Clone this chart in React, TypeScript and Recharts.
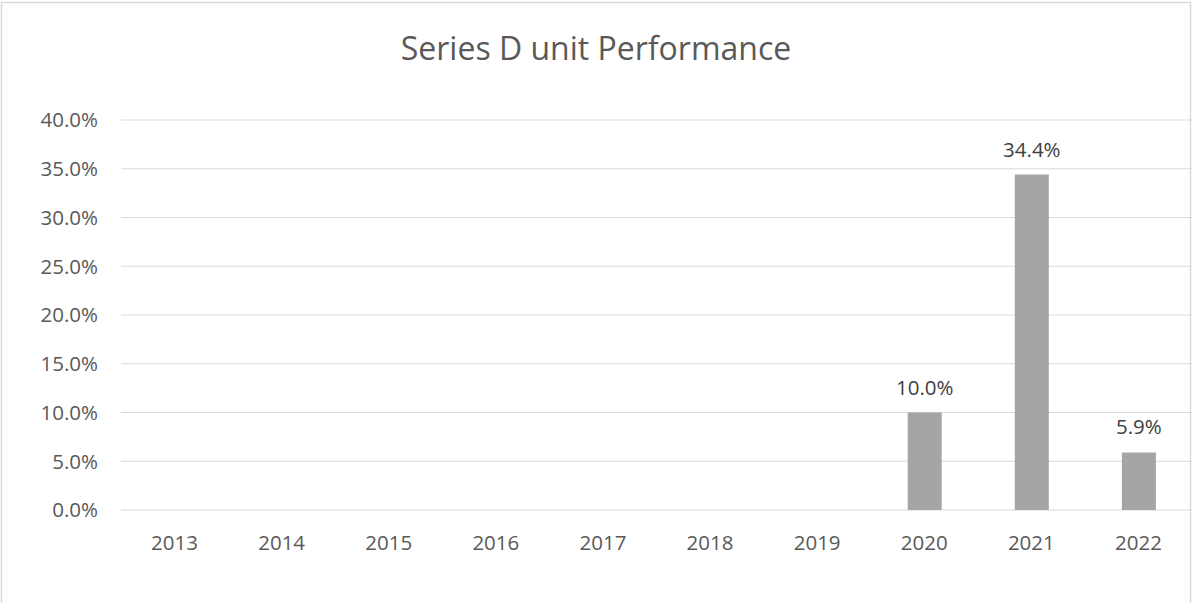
import React from 'react';
import { BarChart, Bar, XAxis, YAxis, CartesianGrid, LabelList } from 'recharts';

const years = ['2013', '2014', '2015', '2016', '2017', '2018', '2019', '2020', '2021', '2022'];
const performance: (number | null)[] = [null, null, null, null, null, null, null, 10.0, 34.4, 5.9];
const yTicks = [0, 5, 10, 15, 20, 25, 30, 35, 40];

const data = years.map((year, i) => ({ year, value: performance[i] }));

const pct = (v: any) => (v == null ? '' : `${Number(v).toFixed(1)}%`);

const FONT = '"Open Sans", sans-serif';

const App: React.FC = () => {
  return (
    <div style={{ position: 'absolute', left: 0, top: 0, width: 1192, height: 603, background: '#fff', fontFamily: FONT }}>
      <BarChart
        width={1192}
        height={603}
        data={data}
        margin={{ top: 120, right: 0, left: 0, bottom: 33 }}
      >
        <CartesianGrid vertical={false} stroke="#d9d9d9" />
        <XAxis
          dataKey="year"
          axisLine={false}
          tickLine={false}
          tickSize={0}
          tickMargin={25}
          height={60}
          tick={{ fill: '#595959', fontSize: 20.5, fontFamily: FONT }}
        />
        <YAxis
          domain={[0, 40]}
          ticks={yTicks}
          width={121}
          axisLine={false}
          tickLine={false}
          tickSize={0}
          tickMargin={23}
          tickFormatter={pct}
          tick={{ fill: '#595959', fontSize: 20.5, fontFamily: FONT }}
        />
        <Bar dataKey="value" fill="#a5a5a5" barSize={34} isAnimationActive={false}>
          <LabelList
            dataKey="value"
            position="top"
            offset={18}
            formatter={pct}
            style={{ fill: '#404040', fontSize: 20.5, fontFamily: FONT }}
          />
        </Bar>
      </BarChart>
      <svg
        width={1192}
        height={603}
        style={{ position: 'absolute', left: 0, top: 0, pointerEvents: 'none', overflow: 'hidden' }}
      >
        <rect x={1.5} y={2.5} width={1189} height={700} fill="none" stroke="#d9d9d9" strokeWidth={1.5} />
        <text x={596} y={60} textAnchor="middle" fill="#595959" fontSize={32} fontFamily={FONT}>
          Series D unit Performance
        </text>
      </svg>
    </div>
  );
};

export default App;
